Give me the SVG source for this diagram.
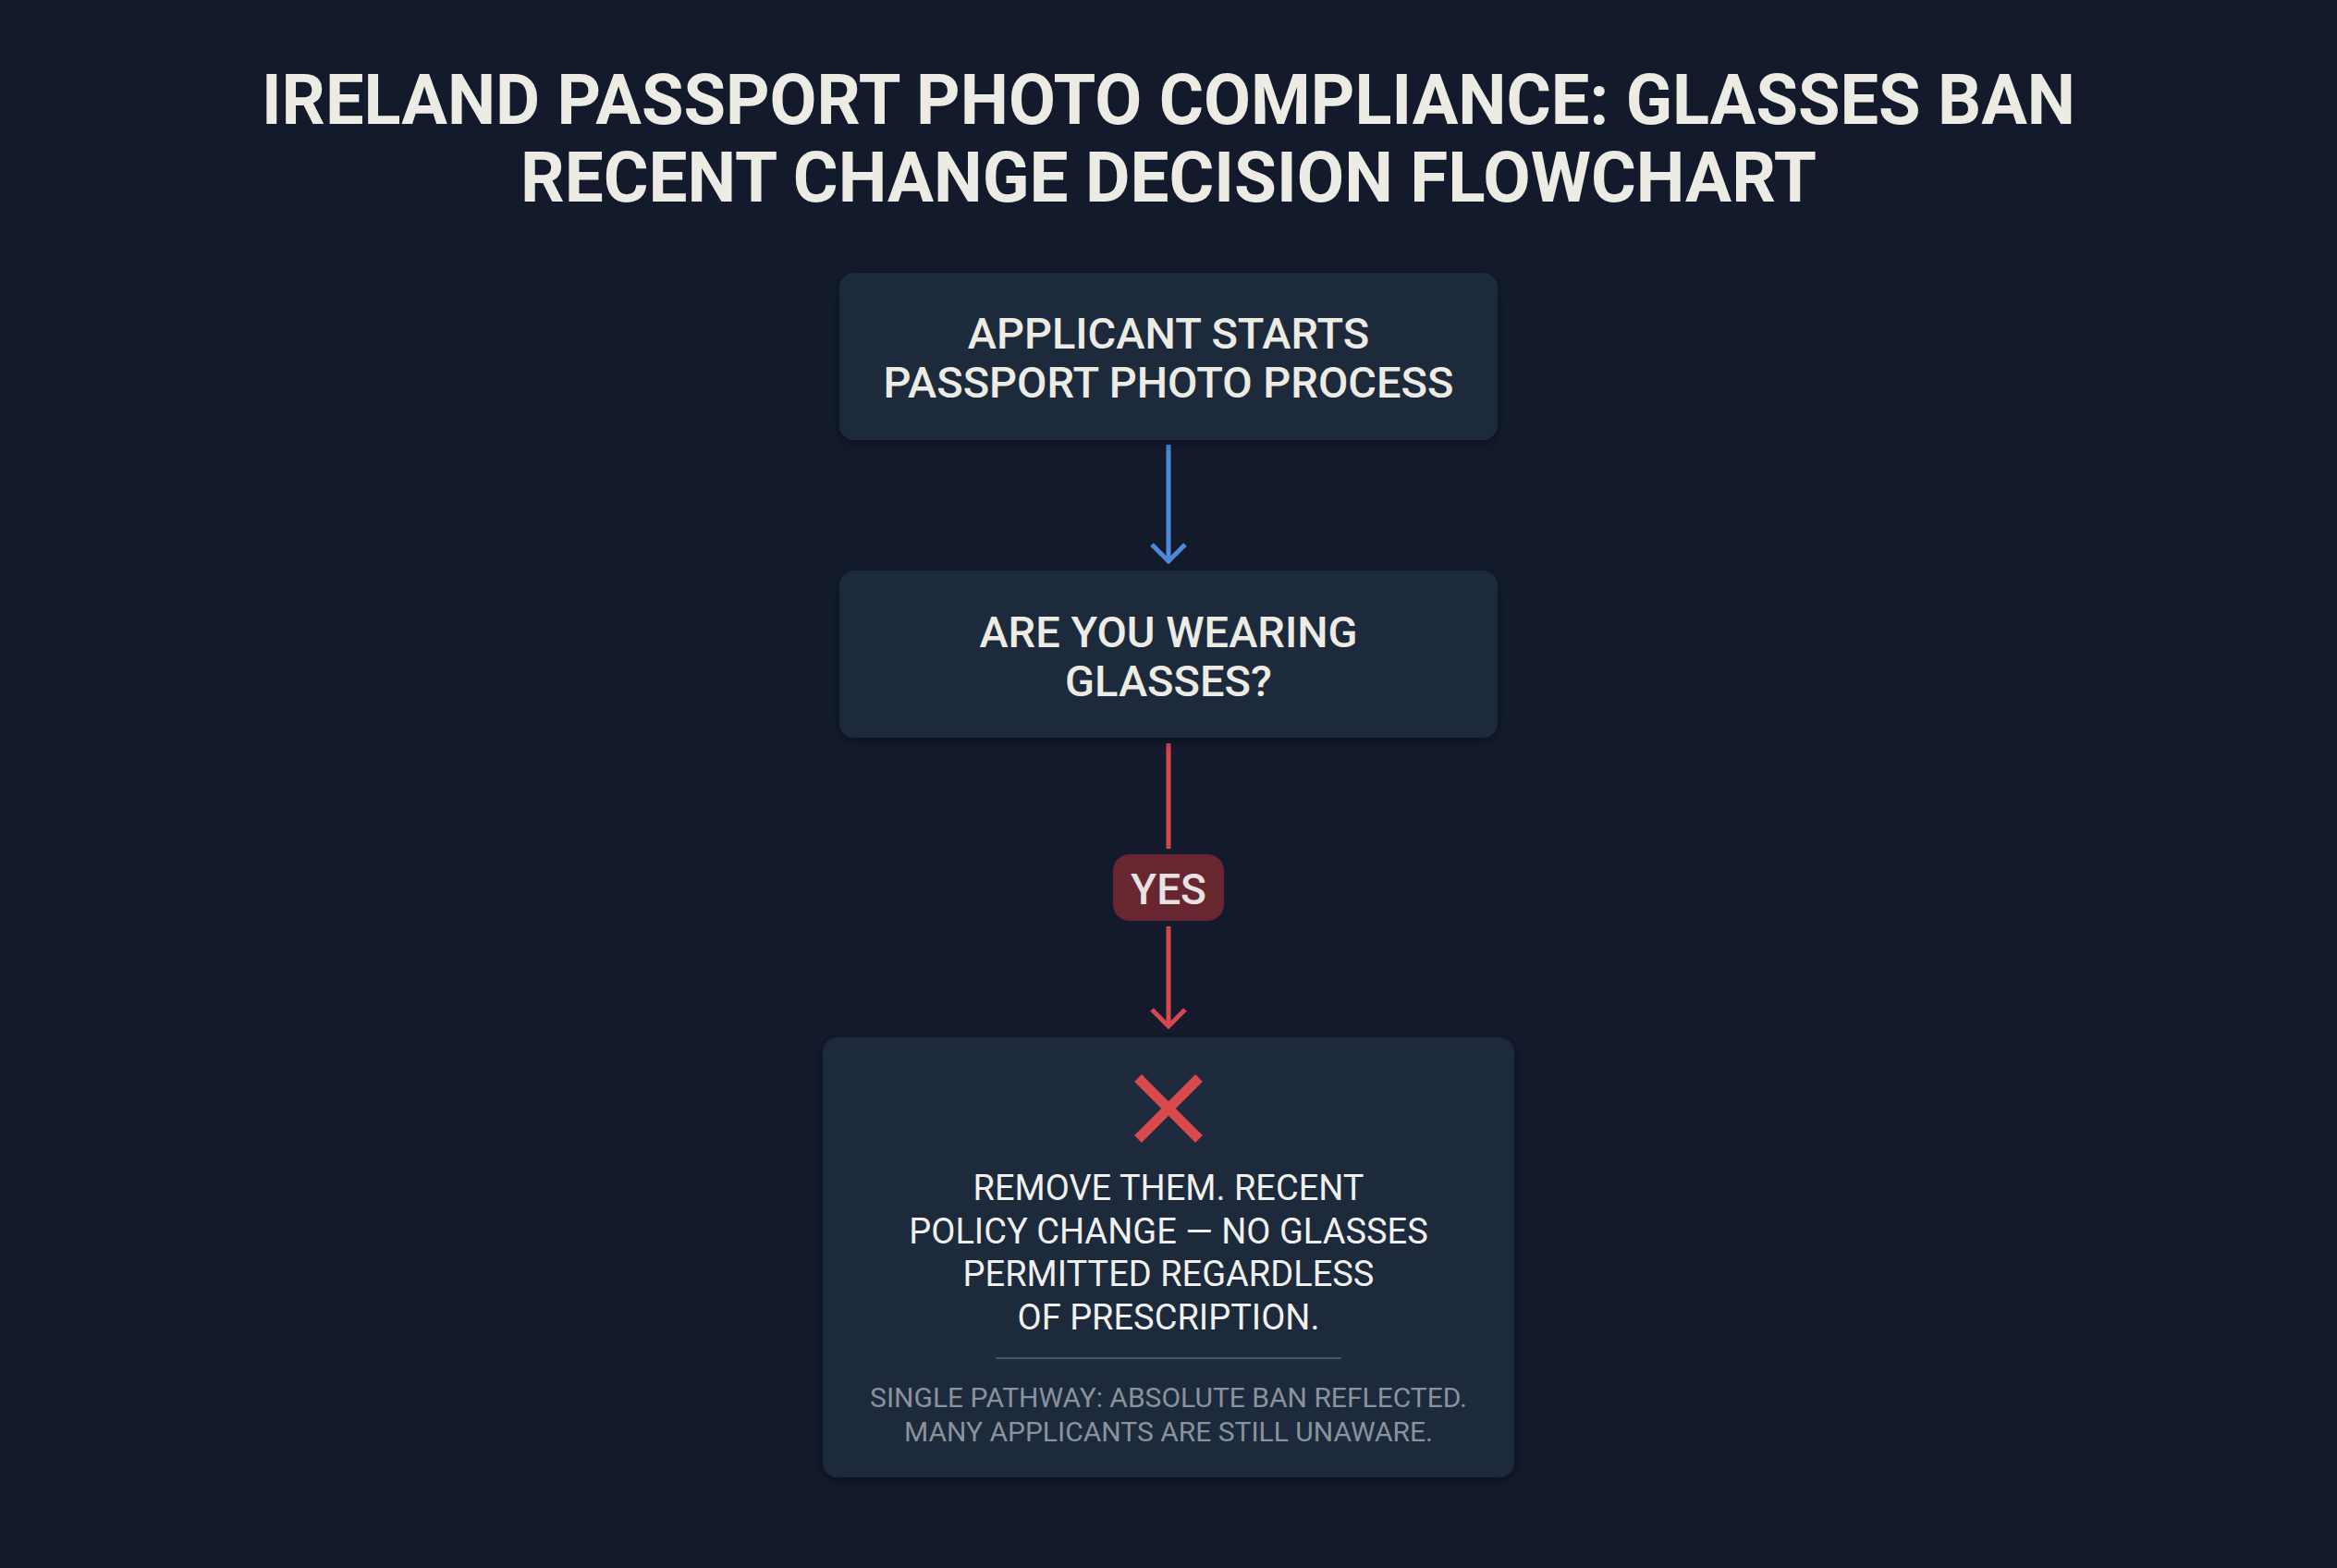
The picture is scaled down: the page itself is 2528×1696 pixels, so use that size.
<svg xmlns="http://www.w3.org/2000/svg" width="2528" height="1696" viewBox="0 0 2528 1696">
<defs>
<style>
.bg{fill:#121a2c}
.node{fill:#1f2a3b}
.title{font-family:Roboto,"Liberation Sans",sans-serif;font-weight:700;font-size:76px;fill:#ecebe4;text-anchor:middle}
.label{font-family:Roboto,"Liberation Sans",sans-serif;font-weight:500;font-size:47px;fill:#ecebe4;text-anchor:middle}
.body{font-family:Roboto,"Liberation Sans",sans-serif;font-weight:400;font-size:38px;fill:#f0f0ee;text-anchor:middle}
.foot{font-family:Roboto,"Liberation Sans",sans-serif;font-weight:400;font-size:30px;fill:#8a929e;text-anchor:middle}
.badge{font-family:Roboto,"Liberation Sans",sans-serif;font-weight:500;font-size:46px;fill:#e8e2e2;text-anchor:middle}
.blue{stroke:#4a8ad8;stroke-width:5;fill:none}
.red{stroke:#d4474f;stroke-width:5;fill:none}
</style>
<filter id="sh" x="-10%" y="-10%" width="120%" height="130%">
<feDropShadow dx="0" dy="4" stdDeviation="6" flood-color="#000" flood-opacity="0.35"/>
</filter>
</defs>
<rect class="bg" x="0" y="0" width="2528" height="1696"/>
<g id="title">
<text class="title" x="1264" y="134" textLength="1962" lengthAdjust="spacingAndGlyphs">IRELAND PASSPORT PHOTO COMPLIANCE: GLASSES BAN</text>
<text class="title" x="1264" y="218" textLength="1402" lengthAdjust="spacingAndGlyphs">RECENT CHANGE DECISION FLOWCHART</text>
</g>
<g id="connectors">
<line class="blue" x1="1264" y1="481" x2="1264" y2="606"/>
<polyline class="blue" points="1246,589 1264,607 1282,589"/>
<line class="red" x1="1264" y1="804" x2="1264" y2="918"/>
<line class="red" x1="1264" y1="1002" x2="1264" y2="1110"/>
<polyline class="red" points="1246,1092 1264,1110 1282,1092"/>
<g id="badge-yes">
<rect x="1204" y="924" width="120" height="72" rx="18" fill="#682630"/>
<text class="badge" x="1264" y="978">YES</text>
</g>
</g>
<g id="node-start">
<rect class="node" x="908" y="295" width="712" height="181" rx="16" filter="url(#sh)"/>
<text class="label" x="1264" y="377">APPLICANT STARTS</text>
<text class="label" x="1264" y="430">PASSPORT PHOTO PROCESS</text>
</g>
<g id="node-question">
<rect class="node" x="908" y="617" width="712" height="181" rx="16" filter="url(#sh)"/>
<text class="label" x="1264" y="700">ARE YOU WEARING</text>
<text class="label" x="1264" y="753">GLASSES?</text>
</g>
<g id="node-result">
<rect class="node" x="890" y="1122" width="748" height="476" rx="16" filter="url(#sh)"/>
<path d="M1231,1166 L1297,1232 M1297,1166 L1231,1232" stroke="#d94a4e" stroke-width="11" fill="none"/>
<text class="body" x="1264" y="1298">REMOVE THEM. RECENT</text>
<text class="body" x="1264" y="1345">POLICY CHANGE — NO GLASSES</text>
<text class="body" x="1264" y="1391">PERMITTED REGARDLESS</text>
<text class="body" x="1264" y="1438">OF PRESCRIPTION.</text>
<line x1="1077" y1="1469" x2="1451" y2="1469" stroke="#4a5566" stroke-width="2"/>
<text class="foot" x="1264" y="1522">SINGLE PATHWAY: ABSOLUTE BAN REFLECTED.</text>
<text class="foot" x="1264" y="1559">MANY APPLICANTS ARE STILL UNAWARE.</text>
</g>
</svg>
